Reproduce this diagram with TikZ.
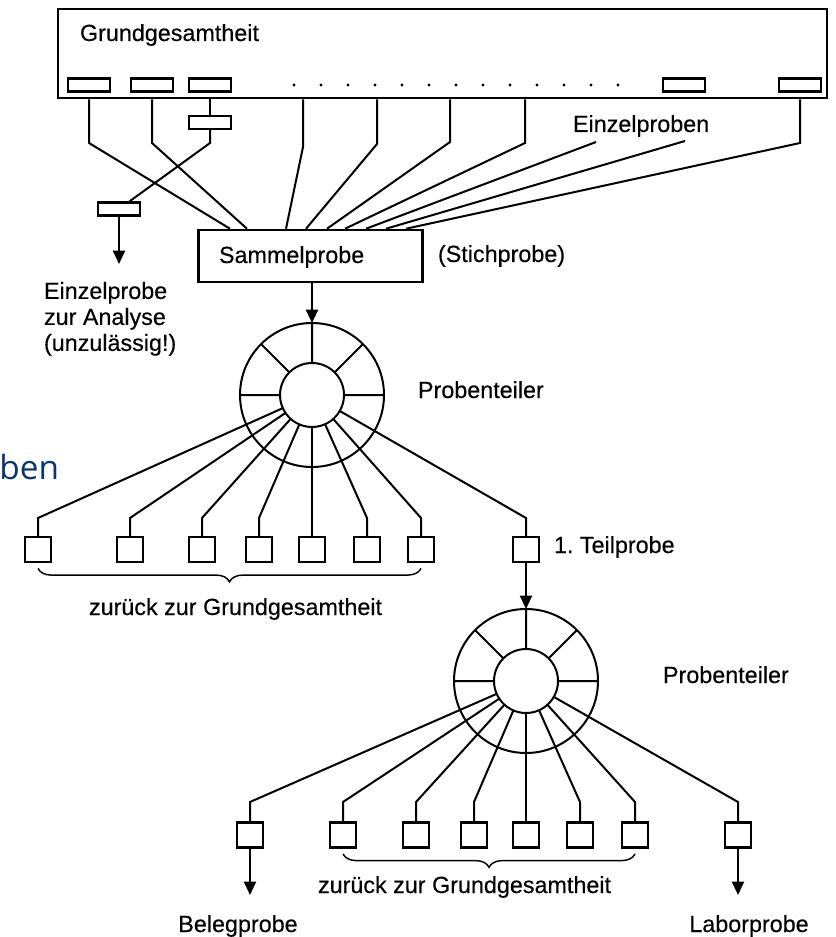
\documentclass[tikz,border=0pt]{standalone}
\usepackage{fontspec}
\setmainfont{Liberation Sans}
\newfontfamily\scanfont{Liberation Sans}[FakeBold=0.3]
\newfontfamily\slidefont{Open Sans}
\usetikzlibrary{arrows.meta,decorations.pathreplacing}
\definecolor{slideblue}{RGB}{10,54,104}
\begin{document}
\begin{tikzpicture}[x=0.75pt,y=-0.75pt,line width=1.5pt,
  >={Triangle[length=10pt,width=9pt]},
  lbl/.style={font=\scanfont\fontsize{17.5}{19.5}\selectfont,inner sep=0pt},
  slot/.style={draw,line width=1.9pt,minimum width=31.5pt,minimum height=9.5pt,inner sep=0pt},
  probe/.style={draw,line width=1.9pt,minimum width=19.5pt,minimum height=18.5pt,inner sep=0pt},
  ring/.style={draw,circle,minimum size=108pt,inner sep=0pt,outer sep=0pt},
  hub/.style={draw,circle,minimum size=48pt,inner sep=0pt,outer sep=0pt},
  back/.style={line width=1.1pt,decorate,decoration={brace,mirror,amplitude=10pt,raise=4pt}}]
\useasboundingbox (0,0) rectangle (835,937);
\node[font=\slidefont\fontsize{25}{30}\selectfont,text=slideblue,anchor=base east,inner sep=0pt](title) at (60,479){ben};
% Grundgesamtheit
\node[draw,line width=1.9pt,minimum width=577pt,minimum height=67pt,inner sep=0pt](GG) at (442.5,53.5){};
\node[lbl,anchor=base west](GGt) at (79,41){Grundgesamtheit};
\node[slot](r1) at (89,85){};
\node[slot](r2) at (152,85){};
\node[slot](r3) at (210,85){};
\node[slot](r4) at (684,85){};
\node[slot](r5) at (800,85){};
\fill (294,85) circle (1.2pt) (321,85) circle (1.2pt) (348,85) circle (1.2pt) (375,85) circle (1.2pt)
  (402,85) circle (1.2pt) (429,85) circle (1.2pt) (456,85) circle (1.2pt) (483,85) circle (1.2pt)
  (510,85) circle (1.2pt) (537,85) circle (1.2pt) (564,85) circle (1.2pt) (591,85) circle (1.2pt)
  (618,85) circle (1.2pt);
\node[slot](r3b) at (210,122.5){};
\node[slot](E1) at (119,209){};
\node[lbl,anchor=base west](einz) at (572,132){Einzelproben};
% Sammelprobe
\node[draw,line width=1.9pt,minimum width=168pt,minimum height=39pt,inner sep=0pt](S) at (310.5,256){};
\node[lbl,anchor=base west](St) at (218,263){Sammelprobe};
\node[lbl,anchor=base west](stich) at (437,262){(Stichprobe)};
\coordinate (f1) at (596,142);
\coordinate (f2) at (685,141);
\draw (r1 |- GG.south) -- (89,143) -- (230,0 |- S.north);
\draw (r2 |- GG.south) -- (152,143) -- (247,0 |- S.north);
\draw (r3 |- GG.south) -- (r3b);
\draw (r3b) -- (210,143) -- (E1);
\draw (303,0 |- GG.south) -- (303,147) -- (286,0 |- S.north);
\draw (377,0 |- GG.south) -- (377,144) -- (306,0 |- S.north);
\draw (450,0 |- GG.south) -- (450,142) -- (327,0 |- S.north);
\draw (525,0 |- GG.south) -- (525,143) -- (345,0 |- S.north);
\draw (f1) -- (366,0 |- S.north);
\draw (f2) -- (386,0 |- S.north);
\draw (r5 |- GG.south) -- (800,143) -- (406,0 |- S.north);
\coordinate (e1tip) at (119,264);
\draw[->] (E1) -- (e1tip);
\node[lbl,anchor=north west,align=left](EA) at (43,281){Einzelprobe\\zur Analyse\\(unzulässig!)};
% 1. Probenteiler
\node[ring](T1) at (312,395){};
\node[hub](T1i) at (312,395){};
\draw (T1i.0) -- (T1.0) (T1i.45) -- (T1.45) (T1i.90) -- (T1.90) (T1i.135) -- (T1.135) (T1i.180) -- (T1.180);
\draw[->] (S.south -| T1) -- (T1.north);
\node[lbl,anchor=base west](PT1) at (417,398){Probenteiler};
\node[probe](b1) at (38,549.5){};
\node[probe](b2) at (130,549.5){};
\node[probe](b3) at (202,549.5){};
\node[probe](b4) at (259,549.5){};
\node[probe](b5) at (312,549.5){};
\node[probe](b6) at (367,549.5){};
\node[probe](b7) at (421,549.5){};
\node[probe](b8) at (526,549.5){};
\draw (T1i) -- (38,518) -- (b1);
\draw (T1i) -- (130,518) -- (b2);
\draw (T1i) -- (202,518) -- (b3);
\draw (T1i) -- (259,518) -- (b4);
\draw (T1i) -- (b5);
\draw (T1i) -- (367,518) -- (b6);
\draw (T1i) -- (421,518) -- (b7);
\draw (T1i) -- (526,518) -- (b8);
\draw[back] (b1.south) -- (b7.south);
\node[lbl,anchor=base west](zg1) at (88,615){zurück zur Grundgesamtheit};
\node[lbl,anchor=base west](tp) at (553,553){1.\ Teilprobe};
% 2. Probenteiler
\node[ring](T2) at (526,681){};
\node[hub](T2i) at (526,681){};
\draw (T2i.0) -- (T2.0) (T2i.45) -- (T2.45) (T2i.90) -- (T2.90) (T2i.135) -- (T2.135) (T2i.180) -- (T2.180);
\draw[->] (b8) -- (T2);
\node[lbl,anchor=base west](PT2) at (662,683){Probenteiler};
\node[probe](c1) at (250,835){};
\node[probe](c2) at (343,835){};
\node[probe](c3) at (416,835){};
\node[probe](c4) at (474,835){};
\node[probe](c5) at (526,835){};
\node[probe](c6) at (580,835){};
\node[probe](c7) at (635,835){};
\node[probe](c8) at (738,835){};
\draw (T2i) -- (250,802) -- (c1);
\draw (T2i) -- (343,802) -- (c2);
\draw (T2i) -- (416,802) -- (c3);
\draw (T2i) -- (474,802) -- (c4);
\draw (T2i) -- (c5);
\draw (T2i) -- (580,802) -- (c6);
\draw (T2i) -- (635,802) -- (c7);
\draw (T2i) -- (738,802) -- (c8);
\draw[back] (c2.south) -- (c7.south);
\node[lbl,anchor=base west](zg2) at (317,893){zurück zur Grundgesamtheit};
\coordinate (c1tip) at (250,895);
\coordinate (c8tip) at (738,895);
\draw[->] (c1) -- (c1tip);
\draw[->] (c8) -- (c8tip);
\node[lbl,anchor=base](beleg) at (238,932){Belegprobe};
\node[lbl,anchor=base](labor) at (749,932){Laborprobe};
\end{tikzpicture}
\end{document}
